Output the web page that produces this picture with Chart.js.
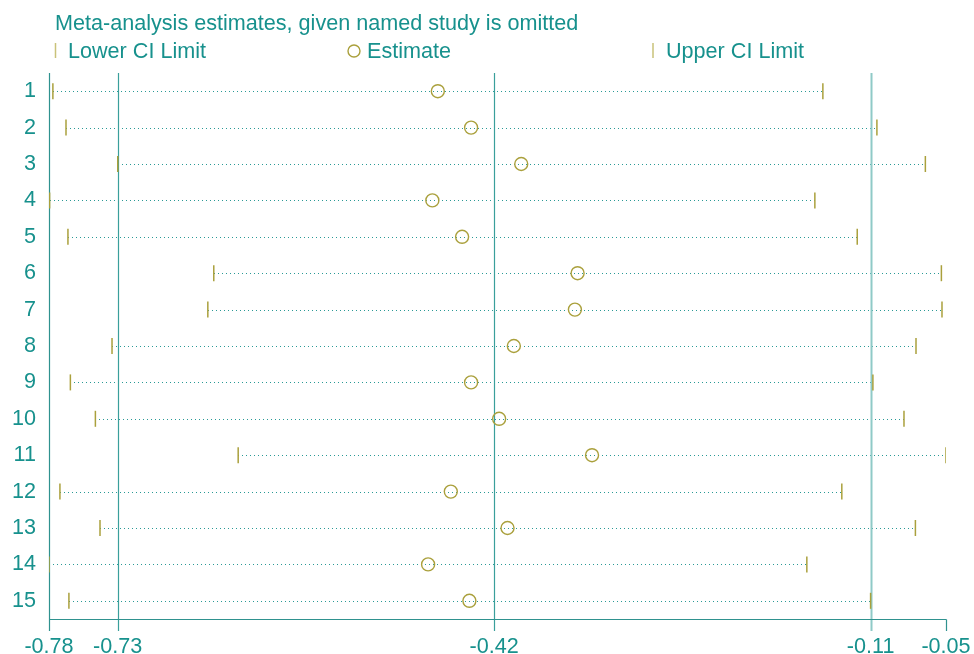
<!DOCTYPE html>
<html>
<head>
<meta charset="utf-8">
<script src="https://cdn.jsdelivr.net/npm/chart.js@4"></script>
<style>
  html, body { margin: 0; padding: 0; background: #fff; }
  #wrap { width: 974px; height: 654px; }
</style>
</head>
<body>
<div id="wrap"><canvas id="omitChart"></canvas></div>
<script>
// Values: study omitted -> pooled estimate with CI
const studies = ['1', '2', '3', '4', '5', '6', '7', '8', '9', '10', '11', '12', '13', '14', '15'];
const lowerCI = [-0.7834, -0.7726, -0.7300, -0.7861, -0.7710, -0.6509, -0.6558, -0.7347, -0.7690, -0.7484, -0.6308, -0.7776, -0.7446, -0.7866, -0.7702];
const estimates = [-0.4664, -0.4390, -0.3977, -0.4709, -0.4464, -0.3513, -0.3535, -0.4038, -0.4390, -0.4159, -0.3394, -0.4557, -0.4090, -0.4744, -0.4404];
const upperCI = [-0.1493, -0.1048, -0.0649, -0.1559, -0.1210, -0.0517, -0.0512, -0.0726, -0.1081, -0.0825, -0.0479, -0.1337, -0.0731, -0.1625, -0.1100];

// overall estimate with all studies: lower, estimate, upper
const overall = [-0.73, -0.42, -0.11];
const xTickLabels = ['-0.78', '-0.73', '-0.42', '-0.11', '-0.05'];

const xMin = Math.min(...lowerCI);
const xMax = Math.max(...upperCI);
const xTickValues = [xMin, overall[0], overall[1], overall[2], xMax];

const TEAL = '#17918d';
const OLIVE = '#aaa03c';
const FONT = '"Liberation Sans", Arial, sans-serif';
const FONT_SIZE = 21.6;

const toPoints = arr => arr.map((v, i) => ({ x: v, y: i + 1 }));

// Draws title, legend, dotted CI spans, reference lines and the bottom axis
const decorations = {
    id: 'decorations',
    beforeDatasetsDraw(chart) {
        const { ctx, chartArea } = chart;
        const xs = chart.scales.x;
        const ys = chart.scales.y;

        ctx.save();
        // dotted spans from lower to upper limit
        ctx.strokeStyle = '#2a9a96';
        ctx.lineWidth = 1;
        ctx.setLineDash([1, 3]);
        studies.forEach((s, i) => {
            const y = Math.round(ys.getPixelForValue(i + 1)) + 0.5;
            ctx.beginPath();
            ctx.moveTo(Math.round(xs.getPixelForValue(lowerCI[i])), y);
            ctx.lineTo(xs.getPixelForValue(upperCI[i]), y);
            ctx.stroke();
        });
        ctx.setLineDash([]);

        const bottom = chartArea.bottom;
        const tickEnd = bottom + 12;

        // overall CI and estimate lines
        overall.forEach((v, i) => {
            const x = Math.round(xs.getPixelForValue(v)) + 0.5;
            ctx.beginPath();
            if (i === 2) {
                ctx.strokeStyle = '#8fcac7';
                ctx.lineWidth = 2;
            } else {
                ctx.strokeStyle = '#3a9f9b';
                ctx.lineWidth = 1.2;
            }
            ctx.moveTo(x, chartArea.top);
            ctx.lineTo(x, tickEnd);
            ctx.stroke();
        });

        // left axis line and bottom axis
        ctx.strokeStyle = '#2f928f';
        ctx.lineWidth = 1.2;
        const left = Math.round(chartArea.left) + 0.5;
        const right = Math.round(xs.getPixelForValue(xMax)) + 0.5;
        const base = Math.round(bottom) + 0.5;
        ctx.beginPath();
        ctx.moveTo(left, chartArea.top);
        ctx.lineTo(left, tickEnd);
        ctx.moveTo(left, base);
        ctx.lineTo(right, base);
        ctx.moveTo(right, base);
        ctx.lineTo(right, tickEnd);
        ctx.stroke();
        ctx.restore();
    },
    afterDraw(chart) {
        const { ctx } = chart;
        ctx.save();
        ctx.fillStyle = TEAL;
        ctx.font = FONT_SIZE + 'px ' + FONT;
        ctx.textBaseline = 'alphabetic';
        ctx.textAlign = 'left';
        ctx.fillText('Meta-analysis estimates, given named study is omitted', 55, 29.5);

        // legend
        ctx.fillText('Lower CI Limit', 68, 57.5);
        ctx.fillText('Estimate', 367, 57.5);
        ctx.fillText('Upper CI Limit', 666, 57.5);

        ctx.strokeStyle = '#c9c27a';
        ctx.lineWidth = 1.5;
        ctx.beginPath();
        ctx.moveTo(55.5, 43);
        ctx.lineTo(55.5, 58);
        ctx.moveTo(653, 43);
        ctx.lineTo(653, 58);
        ctx.stroke();

        ctx.strokeStyle = OLIVE;
        ctx.lineWidth = 1.4;
        ctx.beginPath();
        ctx.arc(354, 51, 6, 0, Math.PI * 2);
        ctx.stroke();
        ctx.restore();
    }
};

const chart = new Chart(document.getElementById('omitChart'), {
    type: 'scatter',
    data: {
        datasets: [
            {
                label: 'Lower CI Limit',
                data: toPoints(lowerCI),
                pointStyle: 'line',
                rotation: 90,
                pointRadius: 8,
                borderColor: OLIVE,
                borderWidth: 1.5
            },
            {
                label: 'Estimate',
                data: toPoints(estimates),
                pointStyle: 'circle',
                pointRadius: 6.5,
                backgroundColor: 'rgba(0,0,0,0)',
                borderColor: OLIVE,
                borderWidth: 1.4
            },
            {
                label: 'Upper CI Limit',
                data: toPoints(upperCI),
                pointStyle: 'line',
                rotation: 90,
                pointRadius: 8,
                borderColor: OLIVE,
                borderWidth: 1.5
            }
        ]
    },
    options: {
        responsive: true,
        maintainAspectRatio: false,
        animation: false,
        layout: {
            padding: { top: 73, right: 28, left: 0, bottom: 0 }
        },
        plugins: {
            legend: { display: false },
            tooltip: { enabled: false },
            title: { display: false }
        },
        elements: {
            point: { hoverRadius: 6.5 }
        },
        scales: {
            x: {
                type: 'linear',
                min: xMin,
                max: xMax,
                grid: { display: false, drawTicks: false },
                border: { display: false },
                afterBuildTicks: axis => {
                    axis.ticks = xTickValues.map(v => ({ value: v }));
                },
                afterFit: axis => {
                    axis.height = 35;
                    axis.paddingLeft = 0;
                    axis.paddingRight = 0;
                },
                ticks: {
                    autoSkip: false,
                    maxRotation: 0,
                    padding: 15,
                    color: TEAL,
                    font: { family: FONT, size: FONT_SIZE },
                    callback: (value, index) => xTickLabels[index]
                }
            },
            y: {
                type: 'linear',
                reverse: true,
                min: 0.5,
                max: 15.5,
                grid: { display: false, drawTicks: false },
                border: { display: false },
                afterBuildTicks: axis => {
                    axis.ticks = studies.map((s, i) => ({ value: i + 1 }));
                },
                afterFit: axis => {
                    axis.width = 49;
                    axis.paddingTop = 0;
                    axis.paddingBottom = 0;
                },
                ticks: {
                    autoSkip: false,
                    padding: 13,
                    color: TEAL,
                    font: { family: FONT, size: FONT_SIZE },
                    callback: (value, index) => studies[index]
                }
            }
        }
    },
    plugins: [decorations]
});
</script>
</body>
</html>
